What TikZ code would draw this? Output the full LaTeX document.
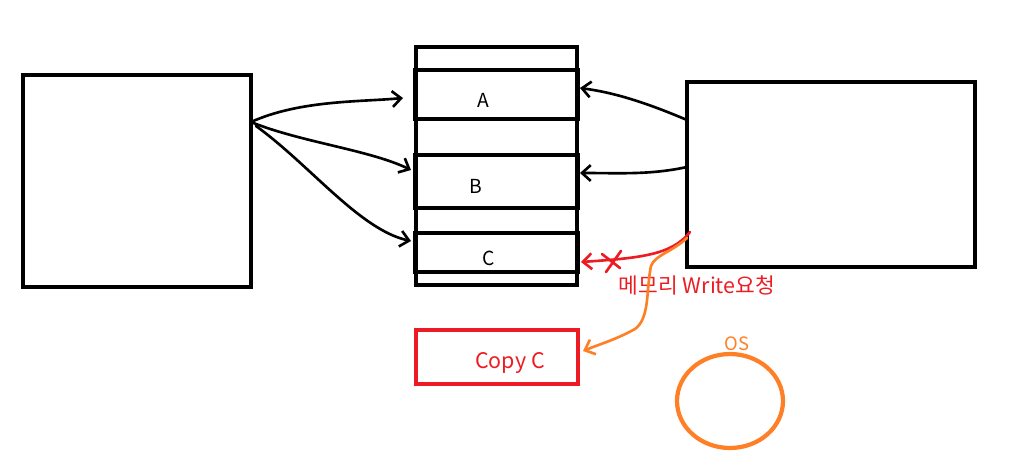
\documentclass[tikz,border=0pt]{standalone}
\usepackage{fontspec}
\setmainfont{Noto Sans CJK KR}
\usetikzlibrary{arrows.meta,shapes.geometric}
\definecolor{pred}{HTML}{ED1C24}
\definecolor{porange}{HTML}{FF7F27}
\begin{document}
\begin{tikzpicture}[x=0.02cm,y=-0.02cm,
  box/.style={draw, line width=2.3pt, inner sep=0pt, outer sep=0pt},
  ink/.style={line width=1.5pt, line cap=round, line join=round},
  arr/.style={ink, -{Straight Barb[length=5pt,width=9pt]}},
  lbl/.style={font=\fontsize{11pt}{13pt}\selectfont, inner sep=0pt}]
\useasboundingbox (0,0) rectangle (1036,461);
% boxes
\node[box, minimum width=4.56cm, minimum height=4.24cm] (L) at (137,181) {};
\node[box, minimum width=5.76cm, minimum height=3.7cm] (R) at (831,174.5) {};
\node[box, minimum width=3.22cm, minimum height=4.76cm] (M) at (496.5,166) {};
\node[box, minimum width=3.26cm, minimum height=0.98cm] (A) at (496.5,94.5) {};
\node[box, minimum width=3.26cm, minimum height=1.06cm] (B) at (496.5,181.5) {};
\node[box, minimum width=3.26cm, minimum height=0.78cm] (C) at (496.5,252.5) {};
\node[lbl] (la) at (483,100) {A};
\node[lbl] (lb) at (476,186) {B};
\node[lbl] (lc) at (489,258) {C};
\node[box, draw=pred, minimum width=3.24cm, minimum height=1.08cm] (CC) at (497,357) {};
\node[lbl, text=pred, font=\fontsize{12.2pt}{14pt}\selectfont] (lcc) at (510,363) {Copy C};
\node[box, draw=porange, line width=2.4pt, ellipse, minimum width=2.12cm, minimum height=1.88cm] (OS) at (730,401) {};
\node[lbl, text=porange, font=\fontsize{10.5pt}{12pt}\selectfont] (los) at (737,344) {OS};
\node[lbl, text=pred, font=\fontsize{12.2pt}{14pt}\selectfont] (req) at (697,285) {메모리 Write요청};
% coordinates
\coordinate (l1) at (251,122);
\coordinate (l2) at (256,126);
\coordinate (ta) at (403,98);
\coordinate (tb) at (411,170);
\coordinate (tc) at (411,241);
\coordinate (r1) at (687,120);
\coordinate (r2) at (687,167);
\coordinate (sa) at (580,88);
\coordinate (sb) at (580,173);
\coordinate (r3) at (690,232);
\coordinate (r4) at (687,238);
\coordinate (sc) at (581,262);
\coordinate (scc) at (583,351);
% black arrows
\draw[arr] (l1) .. controls (300,100) and (360,102) .. (ta);
\draw[arr] (l1) .. controls (300,142) and (370,150) .. (tb);
\draw[arr] (l2) .. controls (310,165) and (360,230) .. (tc);
\draw[arr] (r1) .. controls (640,100) and (610,92) .. (sa);
\draw[arr] (r2) .. controls (650,175) and (620,173) .. (sb);
% red arrow with cross
\draw[arr, draw=pred] (r3) .. controls (672,255) and (640,258) .. (sc);
\draw[ink, draw=pred] (602,254) -- (620,268) (621,251) -- (606,272);
% orange arrow
\draw[arr, draw=porange] (r4) .. controls (672,252) and (655,255) .. (651,266)
  .. controls (646,290) and (650,318) .. (635,329)
  .. controls (615,340) and (600,344) .. (scc);
\end{tikzpicture}
\end{document}
